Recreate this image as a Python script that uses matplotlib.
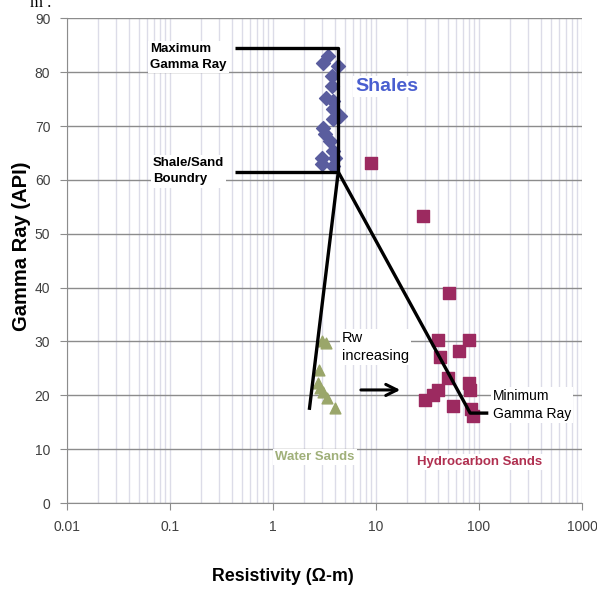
import matplotlib.pyplot as plt
from matplotlib.ticker import LogLocator, NullFormatter, FixedLocator

plt.rcParams['font.family'] = ['Liberation Sans', 'DejaVu Sans']

# shales (diamonds)
shale_res = [3.45, 3.07, 4.3, 3.7, 3.7, 3.3, 3.85, 3.85, 4.47, 3.85, 3.07, 3.2, 3.57, 3.85, 2.96, 4.0, 2.96, 3.85]
shale_gr = [83.0, 81.8, 81.2, 79.3, 77.4, 75.3, 74.7, 73.1, 71.9, 71.3, 69.7, 68.5, 67.2, 65.4, 64.1, 64.1, 62.9, 62.6]

# water sands (triangles)
water_res = [2.97, 3.27, 2.82, 2.75, 2.83, 3.07, 3.32, 4.0]
water_gr = [30.0, 29.7, 24.7, 22.3, 21.3, 20.7, 19.5, 17.6]

# hydrocarbon sands (squares)
hc_res = [8.87, 28.8, 51.5, 40.3, 80.5, 41.8, 64.4, 49.7, 80.5, 81.9, 40.3, 36.0, 29.9, 55.6, 83.0, 86.9]
hc_gr = [63.2, 53.3, 39.0, 30.3, 30.3, 27.2, 28.3, 23.2, 22.3, 21.0, 21.0, 20.1, 19.2, 18.0, 17.4, 16.1]

# interpretation lines
max_line_x = [0.43, 4.3, 4.3]
max_line_y = [84.5, 84.5, 61.5]
bound_line_x = [0.43, 4.3]
bound_line_y = [61.5, 61.5]
water_line_x = [4.3, 2.25]
water_line_y = [61.5, 17.3]
hc_line_x = [4.3, 82, 123]
hc_line_y = [61.5, 16.7, 16.7]

fig = plt.figure(figsize=(5.97, 5.91), dpi=100)
ax = fig.add_axes([0.1122, 0.1489, 0.8628, 0.8198])

ax.set_xscale('log')
ax.set_xlim(0.01, 1000)
ax.set_ylim(0, 90)

ax.xaxis.set_major_locator(FixedLocator([0.01, 0.1, 1, 10, 100, 1000]))
ax.xaxis.set_minor_locator(LogLocator(base=10, subs=range(2, 10)))
ax.xaxis.set_minor_formatter(NullFormatter())
ax.set_xticklabels(['0.01', '0.1', '1', '10', '100', '1000'])
ax.set_yticks(range(0, 91, 10))

ax.grid(True, which='major', axis='y', color='#8c8c8c', lw=1.0)
ax.grid(True, which='both', axis='x', color='#dcdce8', lw=1.0)
ax.set_axisbelow(True)

for s in ['top', 'right']:
    ax.spines[s].set_visible(False)
for s in ['left', 'bottom']:
    ax.spines[s].set_color('#8c8c8c')

ax.tick_params(axis='both', which='major', colors='#8c8c8c', labelcolor='#404040',
               labelsize=10, length=5, pad=7)
ax.tick_params(axis='x', which='minor', length=0)

ax.scatter(shale_res, shale_gr, marker='D', s=50, color='#5a5d9e', zorder=3)
ax.scatter(water_res, water_gr, marker='^', s=60, color='#9aa66a', zorder=3)
ax.scatter(hc_res, hc_gr, marker='s', s=75, color='#9c2a60', zorder=3)

lk = dict(color='black', lw=2.4, zorder=4, solid_capstyle='butt')
ax.plot(max_line_x, max_line_y, **lk)
ax.plot(bound_line_x, bound_line_y, **lk)
ax.plot(water_line_x, water_line_y, **lk)
ax.plot(hc_line_x, hc_line_y, **lk)

ax.annotate('', xy=(18.3, 21.0), xytext=(6.7, 21.0),
            arrowprops=dict(arrowstyle='->', lw=2.2, color='black', mutation_scale=20), zorder=5)

box = dict(facecolor='white', edgecolor='none', pad=1.5)
tk = dict(ha='left', va='center', fontsize=9.5, fontweight='bold', linespacing=1.45, zorder=5, bbox=box)
ax.text(0.064, 82.8, 'Maximum\nGamma Ray', **tk)
ax.text(0.068, 61.6, 'Shale/Sand\nBoundry', **tk)
ax.text(4.68, 29.0, 'Rw\nincreasing', ha='left', va='center', fontsize=10.5, linespacing=1.4, zorder=5, bbox=box)
ax.text(137, 18.2, 'Minimum\nGamma Ray', ha='left', va='center', fontsize=10, linespacing=1.4, zorder=5, bbox=box)
ax.text(6.25, 77.4, 'Shales', ha='left', va='center', fontsize=14, fontweight='bold',
        color='#4a5fd0', zorder=5, bbox=box)
ax.text(1.05, 8.6, 'Water Sands', ha='left', va='center', fontsize=9.5, fontweight='bold',
        color='#a0b07a', zorder=5, bbox=box)
ax.text(25, 7.6, 'Hydrocarbon Sands', ha='left', va='center', fontsize=9.5, fontweight='bold',
        color='#b03050', zorder=5, bbox=box)

ax.set_ylabel('Gamma Ray (API)', fontsize=14.5, fontweight='bold', va='center')
ax.yaxis.set_label_coords(-0.089, 0.53)
ax.set_xlabel('Resistivity (\u03a9-m)', fontsize=12.8, fontweight='bold', va='center')
ax.xaxis.set_label_coords(0.419, -0.151)

fig.text(0.05, 0.995, 'm .', fontsize=12, family=['Liberation Serif', 'DejaVu Serif'], va='center')

fig.savefig('out.png', dpi=100)
